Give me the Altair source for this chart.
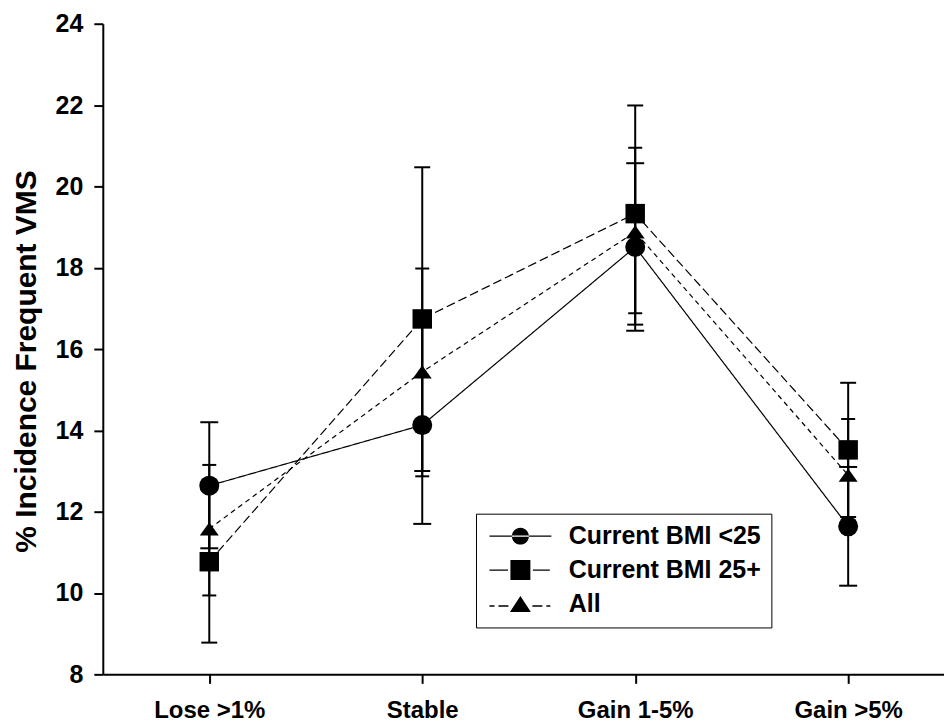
import json
import altair as alt
import pandas as pd

categories = ["Lose >1%", "Stable", "Gain 1-5%", "Gain >5%"]
series = ["Current BMI <25", "Current BMI 25+", "All"]

bmi_lt25 = [12.64, 14.13, 18.51, 11.64]
bmi_lt25_lo = [11.10, 11.70, 16.45, 10.18]
bmi_lt25_hi = [14.20, 16.56, 20.57, 13.10]

bmi_25p = [10.77, 16.74, 19.33, 13.52]
bmi_25p_lo = [8.78, 13.00, 16.60, 11.87]
bmi_25p_hi = [12.77, 20.47, 21.99, 15.17]

all_grp = [11.58, 15.44, 18.88, 12.90]
all_lo = [9.94, 12.87, 16.88, 11.52]
all_hi = [13.15, 17.98, 20.95, 14.28]

y_ticks = [8, 10, 12, 14, 16, 18, 20, 22, 24]

rows = []
for name, vals, los, his in [
    (series[0], bmi_lt25, bmi_lt25_lo, bmi_lt25_hi),
    (series[1], bmi_25p, bmi_25p_lo, bmi_25p_hi),
    (series[2], all_grp, all_lo, all_hi),
]:
    for i, cat in enumerate(categories):
        rows.append({"series": name, "cat": cat, "idx": i,
                     "val": vals[i], "lo": los[i], "hi": his[i]})
df = pd.DataFrame(rows)

FONT = "Liberation Sans"
label_expr = json.dumps(categories) + "[datum.value]"

x_enc = alt.X("idx:Q",
              scale=alt.Scale(domain=[-0.5, 3.45], nice=False, zero=False),
              axis=alt.Axis(values=[0, 1, 2, 3], labelExpr=label_expr, title=None,
                            grid=False, labelFontSize=24, labelPadding=15,
                            labelFlush=False))
y_axis = alt.Axis(values=y_ticks, title="% Incidence Frequent VMS", grid=False,
                  labelFontSize=25, labelPadding=11, titleFontSize=30,
                  titlePadding=14, titleY=338)
y_scale = alt.Scale(domain=[8, 24], nice=False, zero=False)

dash_scale = alt.Scale(domain=series, range=[[1, 0], [9, 4], [5, 4]])
tri_path = "M0,-0.7L1,0.7L-1,0.7Z"
shape_scale = alt.Scale(domain=series, range=["circle", "square", tri_path])
size_scale = alt.Scale(domain=series, range=[400, 361, 529])
cap_scale = alt.Scale(domain=series, range=[18, 14, 11])


def seg(x1, x2, yc=0.0, t=0.065):
    return f"M{x1},{yc - t}L{x2},{yc - t}L{x2},{yc + t}L{x1},{yc + t}Z"


leg_circle = (seg(-3.1, 3.1)
              + "M-0.85,0A0.85,0.85 0 1,0 0.85,0A0.85,0.85 0 1,0 -0.85,0Z")
leg_square = (seg(-3.1, -1.25) + seg(1.25, 2.95)
              + "M-1,-1L1,-1L1,1L-1,1Z")
leg_tri = (seg(-3.1, -2.6, 0.2) + seg(-2.2, -1.2, 0.2)
           + seg(1.2, 2.2, 0.2) + seg(2.6, 3.0, 0.2)
           + "M0,-0.8L1.05,0.8L-1.05,0.8Z")
leg_shape_scale = alt.Scale(domain=series, range=[leg_circle, leg_square, leg_tri])

base = alt.Chart(df)

lines = base.mark_line(color="black", strokeWidth=1.2).encode(
    x=x_enc,
    y=alt.Y("val:Q", scale=y_scale, axis=y_axis),
    strokeDash=alt.StrokeDash("series:N", scale=dash_scale, legend=None),
    detail="series:N",
)

bars = base.mark_rule(color="black", strokeWidth=2).encode(
    x=x_enc,
    y=alt.Y("lo:Q", scale=y_scale),
    y2="hi:Q",
    detail="series:N",
)

caps = base.transform_fold(["lo", "hi"], as_=["end", "ev"]).mark_tick(
    color="black", thickness=2, orient="horizontal", opacity=1
).encode(
    x=x_enc,
    y=alt.Y("ev:Q", scale=y_scale),
    size=alt.Size("series:N", scale=cap_scale, legend=None),
    detail="series:N",
)

points = base.mark_point(filled=True, color="black", opacity=1).encode(
    x=x_enc,
    y=alt.Y("val:Q", scale=y_scale),
    shape=alt.Shape("series:N", scale=shape_scale, legend=None),
    size=alt.Size("series:N", scale=size_scale, legend=None),
)

legend = alt.Legend(
    title=None, orient="none", legendX=374, legendY=491,
    strokeColor="black", padding=10, symbolSize=400, symbolOffset=22,
    labelOffset=36, rowPadding=8, labelFontSize=25, labelFontWeight="bold",
    labelFont=FONT, labelColor="black", labelLimit=400,
    symbolFillColor="black", symbolStrokeWidth=0, symbolOpacity=1,
)

legend_layer = base.transform_filter("false").mark_point(
    filled=True, color="black"
).encode(
    x=x_enc,
    y=alt.Y("val:Q", scale=y_scale),
    shape=alt.Shape("series:N", scale=leg_shape_scale, legend=legend),
)

chart = alt.layer(lines, bars, caps, points, legend_layer).resolve_scale(
    size="independent", shape="independent"
).properties(
    width=843, height=652,
    padding={"left": 95, "top": 15, "right": 0, "bottom": 50},
    autosize=alt.AutoSizeParams(type="none"),
).configure_view(strokeWidth=0).configure_axis(
    domainColor="black", domainWidth=2, tickColor="black", tickWidth=2,
    tickSize=9, labelColor="black", titleColor="black", labelFont=FONT,
    titleFont=FONT, labelFontWeight="bold", titleFontWeight="bold",
)

chart.save("out.html", embed_options={"renderer": "svg", "actions": False})
